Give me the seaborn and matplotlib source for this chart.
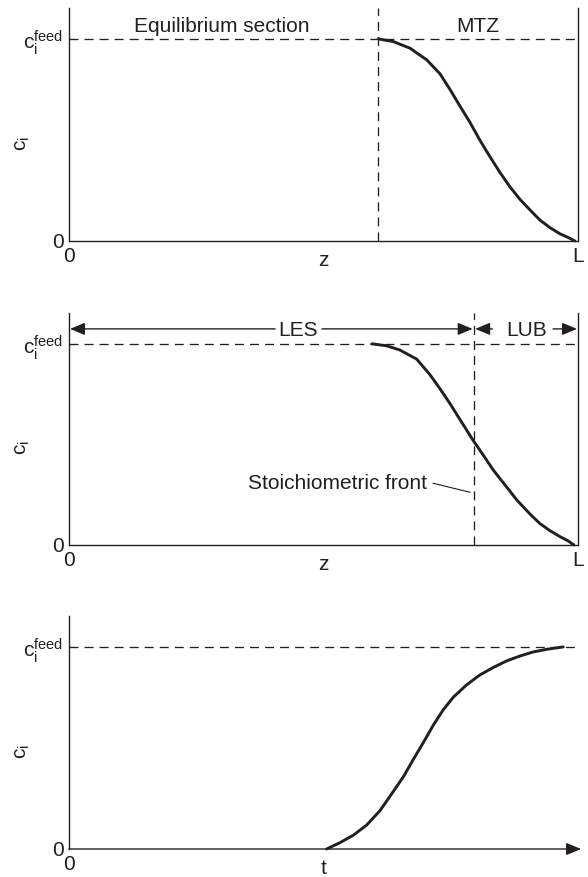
import numpy as np
import pandas as pd
import seaborn as sns
import matplotlib.pyplot as plt

sns.set_theme(style="white")
plt.rcParams["font.family"] = ["Liberation Sans", "DejaVu Sans"]
plt.rcParams["mathtext.default"] = "regular"

INK = "#231f20"
FS = 15

# profiles (x: fraction of bed length / time axis, y: c/c_feed)
front_z = [0.608, 0.637, 0.670, 0.703, 0.729, 0.749, 0.768, 0.788, 0.807, 0.827,
           0.847, 0.866, 0.886, 0.906, 0.925, 0.945, 0.965, 0.981, 0.994]
front_c = [1.000, 0.987, 0.954, 0.896, 0.827, 0.748, 0.668, 0.586, 0.500, 0.417,
           0.338, 0.269, 0.206, 0.153, 0.104, 0.066, 0.035, 0.017, 0.000]

les_z = [0.595, 0.624, 0.650, 0.683, 0.709, 0.729, 0.749, 0.768, 0.794, 0.814,
         0.834, 0.857, 0.880, 0.906, 0.925, 0.945, 0.965, 0.981, 0.992]
les_c = [1.000, 0.990, 0.969, 0.924, 0.847, 0.776, 0.701, 0.624, 0.520, 0.446,
         0.371, 0.297, 0.223, 0.153, 0.107, 0.071, 0.041, 0.020, 0.000]

bt_t = [0.506, 0.532, 0.559, 0.585, 0.611, 0.637, 0.657, 0.676, 0.696, 0.716,
        0.735, 0.755, 0.781, 0.807, 0.834, 0.860, 0.886, 0.912, 0.938, 0.971]
bt_c = [0.000, 0.031, 0.069, 0.119, 0.190, 0.284, 0.358, 0.441, 0.526, 0.614,
        0.688, 0.751, 0.812, 0.861, 0.899, 0.931, 0.955, 0.975, 0.988, 1.000]

mtz_start = 0.607
stoich_z = 0.795
ytop = 1.153

fig = plt.figure(figsize=(5.88, 8.77), dpi=100)
axes = [
    fig.add_axes([69 / 588, (877 - 241) / 877, 509 / 588, 233 / 877]),
    fig.add_axes([69 / 588, (877 - 545) / 877, 509 / 588, 232 / 877]),
    fig.add_axes([69 / 588, (877 - 849) / 877, 509 / 588, 233 / 877]),
]

dash = (0, (6.8, 4.6))
arrow = dict(arrowstyle="-|>,head_length=0.6,head_width=0.25", color=INK, lw=1,
             mutation_scale=15, shrinkA=0, shrinkB=0)
curve_kw = dict(color=INK, lw=2.1, sort=False, estimator=None, clip_on=False,
                solid_joinstyle="round", solid_capstyle="round")

for i, ax in enumerate(axes):
    ax.set_xlim(0, 1)
    ax.set_ylim(0, ytop)
    ax.set_facecolor("white")
    ax.spines["top"].set_visible(False)
    ax.spines["right"].set_visible(i < 2)
    for s in ax.spines.values():
        s.set_color(INK)
        s.set_linewidth(1.0)
    ax.set_yticks([0, 1])
    ax.set_yticklabels(["0", r"$c_i^{feed}$"])
    if i < 2:
        ax.set_xticks([0, 1])
        ax.set_xticklabels(["0", "L"])
    else:
        ax.set_xticks([0])
        ax.set_xticklabels(["0"])
    ax.tick_params(length=0, labelsize=FS, colors=INK, pad=4)
    ax.set_ylabel(r"$c_i$", fontsize=FS, color=INK)
    ax.yaxis.set_label_coords(-0.072, 0.42)
    ax.set_xlabel("t" if i == 2 else "z", fontsize=FS, color=INK)
    ax.xaxis.set_label_coords(0.5, -0.045)
    ax.axhline(1, color=INK, lw=0.95, ls=dash)

# panel 1: equilibrium section + MTZ
ax = axes[0]
ax.axvline(mtz_start, color=INK, lw=0.95, ls=dash)
sns.lineplot(x=front_z, y=front_c, ax=ax, **curve_kw)
ax.text(0.30, 1.036, "Equilibrium section", ha="center", va="baseline", fontsize=FS, color=INK)
ax.text(0.804, 1.036, "MTZ", ha="center", va="baseline", fontsize=FS, color=INK)

# panel 2: LES / LUB
ax = axes[1]
ax.axvline(stoich_z, color=INK, lw=0.95, ls=dash)
sns.lineplot(x=les_z, y=les_c, ax=ax, **curve_kw)
ya = 1.074
ax.annotate("", xy=(0.002, ya), xytext=(0.405, ya), arrowprops=arrow)
ax.annotate("", xy=(stoich_z - 0.002, ya), xytext=(0.497, ya), arrowprops=arrow)
ax.text(0.45, 1.04, "LES", ha="center", va="baseline", fontsize=FS, color=INK)
ax.annotate("", xy=(stoich_z + 0.003, ya), xytext=(0.832, ya), arrowprops=arrow)
ax.annotate("", xy=(0.998, ya), xytext=(0.951, ya), arrowprops=arrow)
ax.text(0.90, 1.04, "LUB", ha="center", va="baseline", fontsize=FS, color=INK)
ax.text(0.703, 0.307, "Stoichiometric front", ha="right", va="center", fontsize=FS, color=INK)
ax.plot([0.715, 0.788], [0.307, 0.262], color=INK, lw=0.8)

# panel 3: breakthrough curve
ax = axes[2]
ax.spines["bottom"].set_visible(False)
ax.annotate("", xy=(1.006, 0), xytext=(0, 0), arrowprops=arrow, annotation_clip=False)
sns.lineplot(x=bt_t, y=bt_c, ax=ax, **curve_kw)

fig.savefig("out.png", dpi=100, facecolor="white")
